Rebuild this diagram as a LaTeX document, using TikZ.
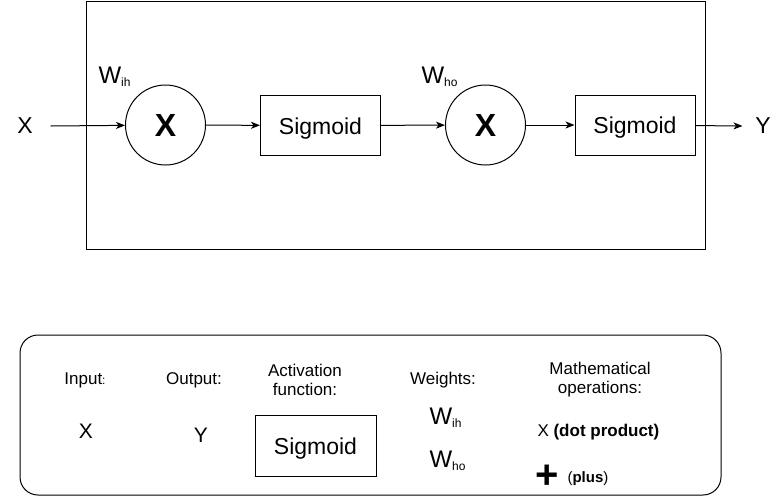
\documentclass[tikz,border=0pt]{standalone}
\usepackage{fontspec}
\setmainfont{Liberation Sans}
\usetikzlibrary{arrows.meta}
\usetikzlibrary{calc}

\newcommand{\wsub}[1]{W\raisebox{-3pt}{\fontsize{12}{13}\selectfont #1}}

\begin{document}
\begin{tikzpicture}[x=1pt,y=-1pt,line width=1pt,
    op/.style={circle,draw,minimum size=80pt,inner sep=0,font=\fontsize{32}{34}\selectfont\bfseries},
    act/.style={rectangle,draw,minimum width=120pt,minimum height=60pt,inner sep=0,text height=17pt,text depth=0pt,font=\fontsize{23}{26}\selectfont},
    lbl/.style={inner sep=0,font=\fontsize{23}{26}\selectfont},
    wlbl/.style={anchor=base west,inner sep=0,font=\fontsize{24}{26}\selectfont},
    key/.style={inner sep=0,align=center,font=\fontsize{17}{19}\selectfont},
    >={Stealth[length=9pt,width=7pt,inset=2.5pt]}]
    \useasboundingbox (0,0) rectangle (776,496);

    % network
    \draw (86,1) rectangle (705,249);
    \node[lbl,minimum width=50pt] (inX) at (25,126) {X};
    \node[op] (op1) at (165.5,125) {X};
    \node[act] (sig1) at (320.5,125.5) {Sigmoid};
    \node[op] (op2) at (485.5,125) {X};
    \node[act] (sig2) at (635,125) {Sigmoid};
    \node[lbl,minimum width=40pt] (outY) at (763,126) {Y};
    \node[wlbl] (wih) at (98,83) {\wsub{ih}};
    \node[wlbl] (who) at (421,83) {\wsub{ho}};

    \draw[->] (inX.east) -- (op1);
    \draw[->] (op1) -- (sig1);
    \draw[->] (sig1) -- (op2);
    \draw[->] (op2) -- (sig2);
    \draw[->] (sig2) -- (outY.west);

    % legend
    \draw[rounded corners=18pt] (20,335) rectangle (721,495);
    \node[key] (kin) at (85,380) {Input{\fontsize{12}{14}\selectfont:}};
    \node[key] (kout) at (194,380) {Output:};
    \node[key] (kact) at (305,380) {Activation\\function:};
    \node[key] (kw) at (443,380) {Weights:};
    \node[key] (kmath) at (600,380) {Mathematical\\operations:};
    \node[lbl,font=\fontsize{21}{24}\selectfont] (kx) at (86,431) {X};
    \node[lbl,font=\fontsize{21}{24}\selectfont] (ky) at (201,435) {Y};
    \node[act,minimum width=121pt,minimum height=61pt] (ksig) at (315.5,445.5) {Sigmoid};
    \node[wlbl] (kwih) at (429,424) {\wsub{ih}};
    \node[wlbl] (kwho) at (429,467) {\wsub{ho}};
    \node[key,anchor=base west,font=\fontsize{17}{19}\selectfont] (kdot) at (537,436) {X \textbf{(dot product)}};
    \node[key,anchor=base west,font=\fontsize{40}{42}\selectfont\bfseries] (kplus) at (535,488) {+};
    \node[key,anchor=base west,font=\fontsize{15}{17}\selectfont] (kplusl) at (567,482) {(\textbf{plus})};
\end{tikzpicture}
\end{document}
